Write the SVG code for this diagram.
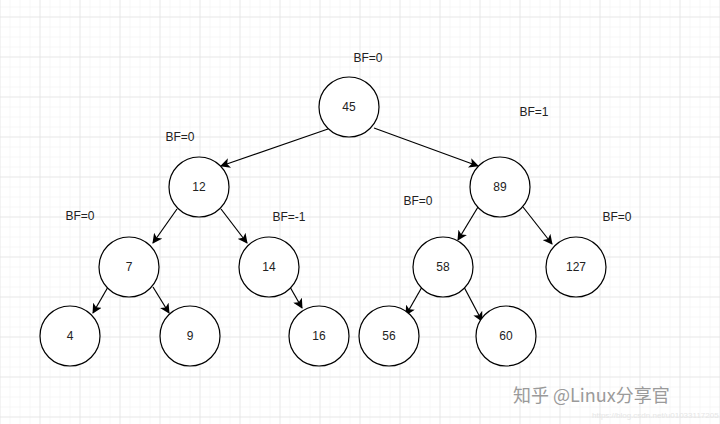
<svg xmlns="http://www.w3.org/2000/svg" width="720" height="424" viewBox="0 0 720 424">
<defs>
<pattern id="minor" x="0.5" y="7.5" width="10" height="10" patternUnits="userSpaceOnUse">
<path d="M10 0 V10 M0 10 H10" fill="none" stroke="#efefef" stroke-width="1"/>
</pattern>
<pattern id="major" x="0.5" y="17.5" width="40" height="40" patternUnits="userSpaceOnUse">
<path d="M40 0 V40 M0 40 H40" fill="none" stroke="#dcdcdc" stroke-width="1"/>
</pattern>
<marker id="arr" viewBox="0 0 10 10" refX="9" refY="5" markerWidth="10" markerHeight="10" markerUnits="userSpaceOnUse" orient="auto">
<path d="M0 0 L10 5 L0 10 L2.5 5 Z" fill="#000"/>
</marker>
<style>
.n circle{fill:#fff;stroke:#000;stroke-width:1.2}
text{font-family:"Liberation Sans",Arial,sans-serif;font-size:12px;fill:#222}
.n text{text-anchor:middle;dominant-baseline:central}
.bf{text-anchor:middle;dominant-baseline:central}
.e line{stroke:#000;stroke-width:1.2;marker-end:url(#arr)}
</style>
</defs>
<rect width="720" height="424" fill="#fff"/>
<rect width="720" height="424" fill="url(#minor)"/>
<rect width="720" height="424" fill="url(#major)"/>
<g id="edges" class="e">
<line x1="328" y1="129" x2="221" y2="166"/>
<line x1="374" y1="128" x2="478" y2="166"/>
<line x1="177" y1="209" x2="153" y2="243"/>
<line x1="221" y1="209" x2="247" y2="243"/>
<line x1="108" y1="287" x2="93" y2="313"/>
<line x1="153" y1="287" x2="169" y2="313"/>
<line x1="290" y1="287" x2="302" y2="308"/>
<line x1="478" y1="207" x2="458" y2="240"/>
<line x1="523" y1="207" x2="552" y2="244"/>
<line x1="422" y1="287" x2="406" y2="315"/>
<line x1="464" y1="287" x2="482" y2="321"/>
</g>
<g id="n45" class="n"><circle cx="349" cy="107" r="30"/><text x="349" y="107">45</text></g>
<g id="n12" class="n"><circle cx="199" cy="187" r="30"/><text x="199" y="187">12</text></g>
<g id="n89" class="n"><circle cx="500" cy="187" r="30"/><text x="500" y="187">89</text></g>
<g id="n7" class="n"><circle cx="129" cy="267" r="30"/><text x="129" y="267">7</text></g>
<g id="n14" class="n"><circle cx="269" cy="267" r="30"/><text x="269" y="267">14</text></g>
<g id="n58" class="n"><circle cx="443" cy="267" r="30"/><text x="443" y="267">58</text></g>
<g id="n127" class="n"><circle cx="576" cy="267" r="30"/><text x="576" y="267">127</text></g>
<g id="n4" class="n"><circle cx="70" cy="336" r="30"/><text x="70" y="336">4</text></g>
<g id="n9" class="n"><circle cx="190" cy="336" r="30"/><text x="190" y="336">9</text></g>
<g id="n16" class="n"><circle cx="319" cy="336" r="30"/><text x="319" y="336">16</text></g>
<g id="n56" class="n"><circle cx="389" cy="336" r="30"/><text x="389" y="336">56</text></g>
<g id="n60" class="n"><circle cx="506" cy="336" r="30"/><text x="506" y="336">60</text></g>
<g id="labels">
<text class="bf" x="368" y="58">BF=0</text>
<text class="bf" x="534" y="112">BF=1</text>
<text class="bf" x="180" y="137">BF=0</text>
<text class="bf" x="80" y="216">BF=0</text>
<text class="bf" x="289" y="217">BF=-1</text>
<text class="bf" x="418" y="201">BF=0</text>
<text class="bf" x="617" y="217">BF=0</text>
</g>
<g id="watermark">
<text x="513" y="402" style="font-family:'Noto Sans CJK SC','Liberation Sans',sans-serif;font-size:18px;fill:#9a9a9a">知乎 @Linux分享官</text>
<text x="592" y="418" style="font-size:8px;fill:#e6e6e6">https://blog.csdn.net/u01033117205</text>
</g>
</svg>
